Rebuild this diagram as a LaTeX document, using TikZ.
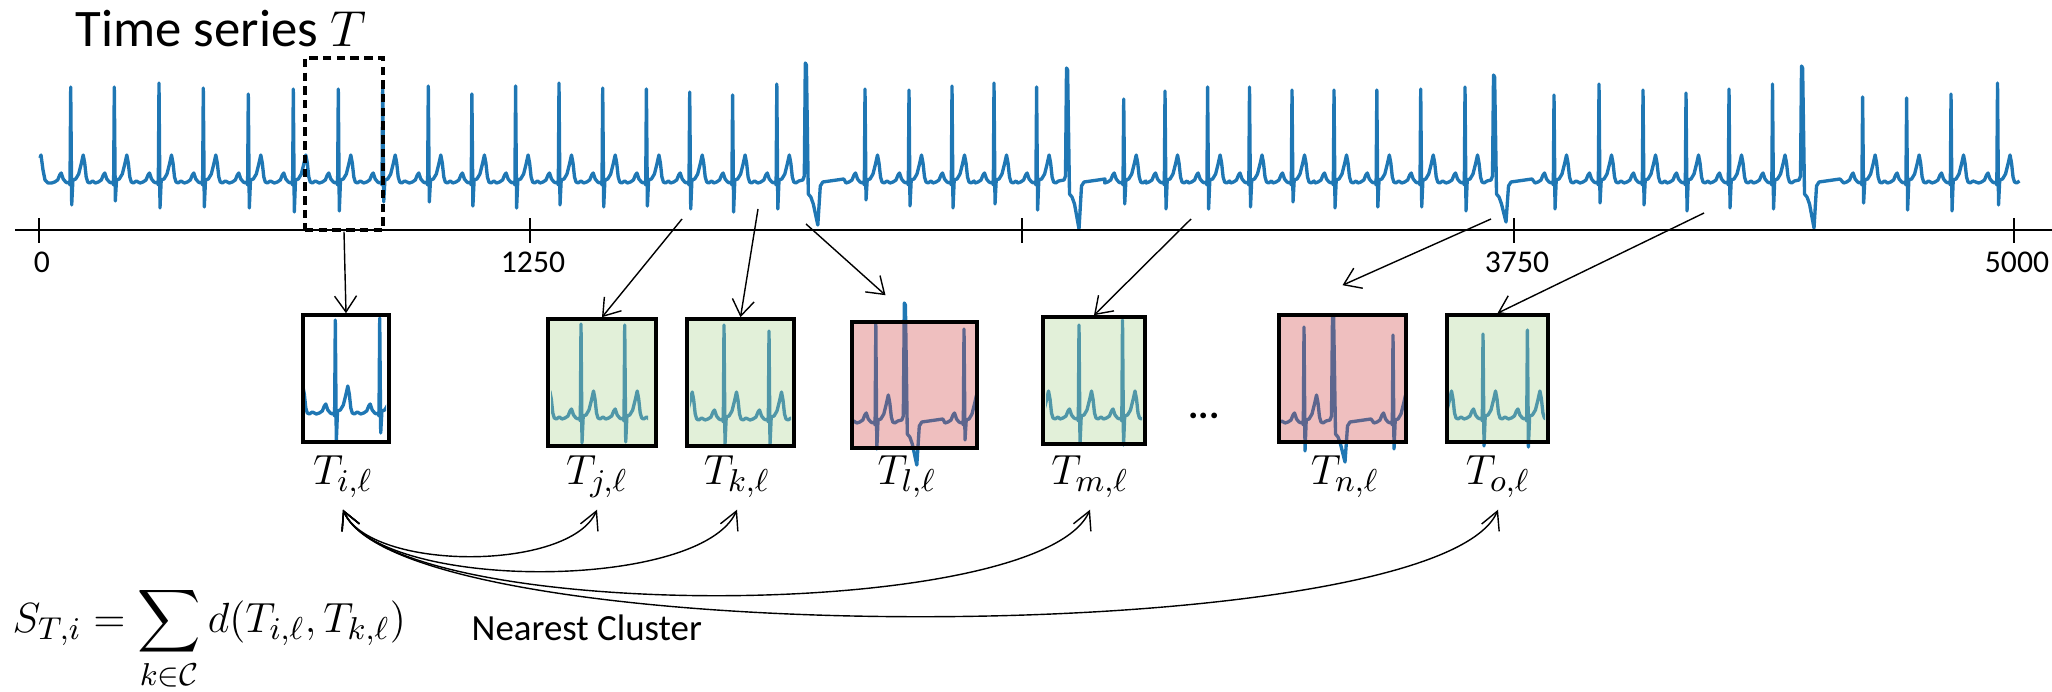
\documentclass[tikz,border=0pt]{standalone}
\usepackage{fontspec}
\setmainfont{Carlito}
\usepackage{amsmath,amssymb}
\usetikzlibrary{arrows.meta,calc}
\definecolor{SignalBlue}{RGB}{31,119,180}
\definecolor{NearGreen}{RGB}{172,212,146}
\definecolor{FarRed}{RGB}{209,72,72}

% one normal heartbeat and one premature beat, R peak at \rpk
\newcommand{\nbeat}{-- (\rpk-19,183) -- (\rpk-16,182) -- (\rpk-13,180) -- (\rpk-11,175) -- (\rpk-9.5,173) -- (\rpk-7.5,179) -- (\rpk-5,182) -- (\rpk-3,183) -- (\rpk-1.5,182) -- (\rpk-0.7,185) -- (\rpk,\rtop) -- (\rpk+1,\sbot) -- (\rpk+2.2,180) -- (\rpk+5,179) -- (\rpk+8,174) -- (\rpk+10.5,164) -- (\rpk+12.5,155) -- (\rpk+14,163) -- (\rpk+15.5,177) -- (\rpk+17,182) -- (\rpk+19,183) -- (\rpk+22,181)}
\newcommand{\vbeat}{-- (\rpk-3,180) -- (\rpk-1.5,176) -- (\rpk-0.5,\rtop) -- (\rpk+0.6,\rtop+2) -- (\rpk+2.5,194) -- (\rpk+5,197) -- (\rpk+7.5,204) -- (\rpk+12,\sbot) -- (\rpk+14.5,186) -- (\rpk+17,182) -- (\rpk+24,181) -- (\rpk+31,180) -- (\rpk+38,179)}
\newcommand{\ecg}{(40,158) -- (41,155) -- (43,170) -- (45,180) -- (48,183)
  \foreach \rpk/\rtop/\sbot/\kind in {70.7/87/205/\nbeat, 114.3/87/201/\nbeat, 159/83/208/\nbeat, 203.3/88/207/\nbeat,
    248.3/94/208/\nbeat, 293.3/89/212/\nbeat, 338.3/89/211/\nbeat, 382.7/87/202/\nbeat, 428.3/86/202/\nbeat,
    471.9/94/206/\nbeat, 515.6/86/208/\nbeat, 559/83/205/\nbeat, 602.7/88/207/\nbeat, 646.4/89/206/\nbeat,
    689.7/92/209/\nbeat, 732.6/95/212/\nbeat, 776.8/84/209/\nbeat, 805.8/63/225/\vbeat, 865/89/200/\nbeat,
    909/90/206/\nbeat, 952/86/208/\nbeat, 994/83/204/\nbeat, 1036.6/87/210/\nbeat, 1067/68/229/\vbeat,
    1123.7/99/204/\nbeat, 1165/91/209/\nbeat, 1207.6/87/209/\nbeat, 1249.5/87/207/\nbeat, 1292/90/202/\nbeat,
    1334/90/208/\nbeat, 1376.8/90/207/\nbeat, 1420.7/89/207/\nbeat, 1465/87/211/\nbeat, 1494/75/222/\vbeat,
    1554/95/209/\nbeat, 1599/84/203/\nbeat, 1643/90/205/\nbeat, 1686/93/211/\nbeat, 1729/89/208/\nbeat,
    1772.5/84/209/\nbeat, 1802/66/228/\vbeat, 1862.6/97/203/\nbeat, 1906.6/98/210/\nbeat, 1951/94/211/\nbeat,
    1997.5/83/205/\nbeat} {\kind}}

\begin{document}
\begin{tikzpicture}[
  x=0.01cm, y=-0.01cm,
  signal/.style={draw=SignalBlue,line width=0.95pt,line join=round},
  window/.style={draw,dash pattern=on 2.4pt off 1.5pt,line width=0.9pt,minimum width=0.78cm,minimum height=1.72cm,inner sep=0pt},
  snip/.style={draw,line width=1pt,inner sep=0pt,minimum height=1.27cm},
  near/.style={snip,fill=NearGreen,fill opacity=0.35},
  far/.style={snip,fill=FarRed,fill opacity=0.35},
  lab/.style={anchor=base,inner sep=0pt,text depth=2.5mm,font=\fontsize{12.5}{14}\selectfont},
  ticklab/.style={anchor=base,inner sep=0pt,font=\fontsize{9}{11}\selectfont},
  link/.style={-{Straight Barb[length=1.6mm,width=2.2mm]},line width=0.4pt},
  pair/.style={{Straight Barb[length=1.8mm,width=1.9mm]}-{Straight Barb[length=1.8mm,width=1.9mm]},line width=0.4pt}
]
\useasboundingbox (0,0) rectangle (2052,691);

\node[anchor=base west,inner sep=0pt,font=\fontsize{15}{18}\selectfont] (title) at (75,47) {Time series $T$};

\draw[signal] \ecg;
\node[window] (win) at (344,144) {};

\draw[line width=0.4pt] (15,230) -- (2052,230);
\foreach \xx in {39,530,1022,1514,2014}
  \draw[line width=0.4pt] (\xx,218) -- (\xx,243);
\foreach \v/\xx in {0/39,1250/530,3750/1514,5000/2014}
  \node[ticklab] (t\v) at (\xx+3,272) {\v};

% windows of the series copied under the axis
\foreach \dx/\dy/\xa/\xb in {-3/231/305/386, -21.7/236/551/648, 520.7/237/690/791, 99/240/852/977,
    -650/236/1046/1142, -161/240/1279/1406, -423.6/236/1449/1545}{
  \begin{scope}
    \clip (\xa,250) rectangle (\xb,520);
    \draw[signal,shift={(\dx,\dy)}] \ecg;
  \end{scope}
}

\node[snip,minimum width=0.86cm] (bi) at (346,378.5) {};
\node[near,minimum width=1.08cm] (bj) at (602,382.5) {};
\node[near,minimum width=1.07cm] (bk) at (740.5,382.5) {};
\node[far,minimum width=1.25cm,minimum height=1.26cm] (bl) at (914.5,385) {};
\node[near,minimum width=1.02cm] (bm) at (1094,380.5) {};
\node[far,minimum width=1.27cm] (bn) at (1342.5,378.5) {};
\node[near,minimum width=1.01cm] (bo) at (1497.5,378.5) {};
\node[anchor=base,font=\fontsize{11}{13}\selectfont\bfseries] (dots) at (1204,418) {...};

\node[lab] (li) at (343,484) {$T_{i,\ell}$};
\node[lab] (lj) at (597,484) {$T_{j,\ell}$};
\node[lab] (lk) at (737,484) {$T_{k,\ell}$};
\node[lab] (ll) at (907,484) {$T_{l,\ell}$};
\node[lab] (lm) at (1090,484) {$T_{m,\ell}$};
\node[lab] (ln) at (1345,484) {$T_{n,\ell}$};
\node[lab] (lo) at (1498,484) {$T_{o,\ell}$};

\coordinate (fromj) at (682,219);
\coordinate (fromk) at (758,209);
\coordinate (froml) at (806,224);
\coordinate (fromm) at (1191,219);
\coordinate (fromn) at (1491,219);
\coordinate (fromo) at (1704,213);
\draw[link] (win.south) -- (bi.north);
\draw[link] (fromj) -- (bj.north);
\draw[link] (fromk) -- (bk.north);
\draw[link] (froml) -- ($(bl.north)+(-29,-25)$);
\draw[link] (fromm) -- (bm.north);
\draw[link] (fromn) -- ($(bn.north)+(0,-28)$);
\draw[link] (fromo) -- (bo.north);

\draw[pair] (li.south) .. controls +(27,62) and +(-27,62) .. (lj.south);
\draw[pair] (li.south) .. controls +(36,82) and +(-36,82) .. (lk.south);
\draw[pair] (li.south) .. controls +(50,114) and +(-50,114) .. (lm.south);
\draw[pair] (li.south) .. controls +(60,142) and +(-60,142) .. (lo.south);

\node[anchor=base west,inner sep=0pt,font=\fontsize{12.5}{14}\selectfont] (score) at (12,632)
  {$S_{T,i} = \displaystyle\sum_{k\in\mathcal{C}} d(T_{i,\ell},T_{k,\ell})$};
\node[anchor=base west,inner sep=0pt,font=\fontsize{10.5}{12}\selectfont] (nc) at (471,640) {Nearest Cluster};
\end{tikzpicture}
\end{document}
